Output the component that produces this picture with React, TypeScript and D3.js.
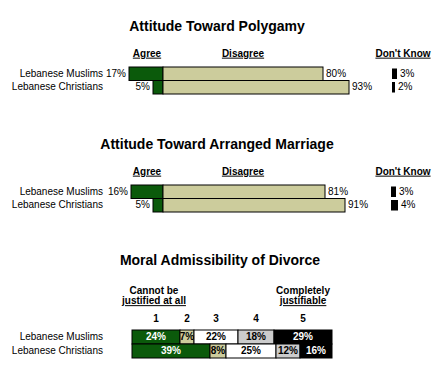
import React from "react";
import * as d3 from "d3";

const groups = ["Lebanese Muslims", "Lebanese Christians"];
const polygamyAgree = [17, 5];
const polygamyDisagree = [80, 93];
const polygamyDK = [3, 2];
const marriageAgree = [16, 5];
const marriageDisagree = [81, 91];
const marriageDK = [3, 4];
const divorceLevels = ["1", "2", "3", "4", "5"];
const divorceMuslims = [24, 7, 22, 18, 29];
const divorceChristians = [39, 8, 25, 12, 16];

const GREEN = "#0b5a0b";
const TAN = "#cccc9c";
const GRAY = "#cccccc";
const FONT = "'Liberation Sans', Arial, sans-serif";

const x = d3.scaleLinear().domain([0, 100]).range([0, 200]);

function AgreeChart({ title, top, agree, disagree, dk, zeroX, dkX }: any) {
  const y = d3.scaleBand().domain(groups).range([top + 45, top + 72]).padding(0);
  return (
    <g>
      <text x={217} y={top + 5} textAnchor="middle" fontWeight="bold" fontSize={14} dominantBaseline="middle">{title}</text>
      <text x={zeroX - 16} y={top + 32} textAnchor="middle" fontWeight="bold" fontSize={10} textDecoration="underline" dominantBaseline="middle">Agree</text>
      <text x={243} y={top + 32} textAnchor="middle" fontWeight="bold" fontSize={10} textDecoration="underline" dominantBaseline="middle">Disagree</text>
      <text x={403} y={top + 32} textAnchor="middle" fontWeight="bold" fontSize={10} textDecoration="underline" dominantBaseline="middle">Don't Know</text>
      {groups.map((g, i) => {
        const yy = y(g)!;
        const h = y.bandwidth();
        const cy = yy + h / 2 + 0.5;
        return (
          <g key={g}>
            <text x={103} y={cy} textAnchor="end" fontSize={10} dominantBaseline="middle">{g}</text>
            <rect x={zeroX - x(agree[i])} y={yy} width={x(agree[i])} height={h} fill={GREEN} stroke="#000" strokeWidth={1} />
            <rect x={zeroX} y={yy} width={x(disagree[i])} height={h} fill={TAN} stroke="#000" strokeWidth={1} />
            <rect x={dkX} y={yy + 1.5} width={x(dk[i]) - 1} height={h - 3} fill="#000" />
            <text x={zeroX - x(agree[i]) - 3} y={cy} textAnchor="end" fontSize={10} dominantBaseline="middle">{agree[i]}%</text>
            <text x={zeroX + x(disagree[i]) + 3} y={cy} fontSize={10} dominantBaseline="middle">{disagree[i]}%</text>
            <text x={dkX + x(dk[i]) + 2} y={cy} fontSize={10} dominantBaseline="middle">{dk[i]}%</text>
          </g>
        );
      })}
    </g>
  );
}

function DivorceChart() {
  const top = 261;
  const left = 132;
  const y = d3.scaleBand().domain(groups).range([330, 358]).padding(0);
  const fills = [GREEN, TAN, "#ffffff", GRAY, "#000000"];
  const textFills = ["#fff", "#000", "#000", "#000", "#fff"];
  const rows = [divorceMuslims, divorceChristians];
  const cumM = d3.cumsum(divorceMuslims);
  return (
    <g>
      <text x={220} y={top} textAnchor="middle" fontWeight="bold" fontSize={14} dominantBaseline="middle">Moral Admissibility of Divorce</text>
      <text x={154} y={291} textAnchor="middle" fontWeight="bold" fontSize={10} dominantBaseline="middle">Cannot be</text>
      <text x={154} y={301.5} textAnchor="middle" fontWeight="bold" fontSize={10} textDecoration="underline" dominantBaseline="middle">justified at all</text>
      <text x={303} y={291} textAnchor="middle" fontWeight="bold" fontSize={10} dominantBaseline="middle">Completely</text>
      <text x={303} y={301.5} textAnchor="middle" fontWeight="bold" fontSize={10} textDecoration="underline" dominantBaseline="middle">justifiable</text>
      {divorceLevels.map((lv, j) => (
        <text key={lv} x={left + x(cumM[j] - divorceMuslims[j] / 2)} y={319} textAnchor="middle" fontWeight="bold" fontSize={10} dominantBaseline="middle">{lv}</text>
      ))}
      {groups.map((g, i) => {
        const yy = y(g)!;
        const h = y.bandwidth();
        const cy = yy + h / 2 + 0.5;
        const cum = d3.cumsum(rows[i]);
        return (
          <g key={g}>
            <text x={103} y={cy} textAnchor="end" fontSize={10} dominantBaseline="middle">{g}</text>
            {rows[i].map((v, j) => {
              const x0 = left + x(cum[j] - v);
              return (
                <g key={j}>
                  <rect x={x0} y={yy} width={x(v)} height={h} fill={fills[j]} stroke="#000" strokeWidth={1} />
                  <text x={x0 + x(v) / 2} y={cy} textAnchor="middle" fontWeight="bold" fontSize={10} fill={textFills[j]} dominantBaseline="middle">{v}%</text>
                </g>
              );
            })}
          </g>
        );
      })}
    </g>
  );
}

export default function App() {
  return (
    <svg width={440} height={380} style={{ position: "absolute", left: 0, top: 0, background: "#fff" }} fontFamily={FONT}>
      <rect width={440} height={380} fill="#fff" />
      <AgreeChart title="Attitude Toward Polygamy" top={22} agree={polygamyAgree} disagree={polygamyDisagree} dk={polygamyDK} zeroX={163} dkX={392} />
      <AgreeChart title="Attitude Toward Arranged Marriage" top={140} agree={marriageAgree} disagree={marriageDisagree} dk={marriageDK} zeroX={163} dkX={391} />
      <DivorceChart />
    </svg>
  );
}
